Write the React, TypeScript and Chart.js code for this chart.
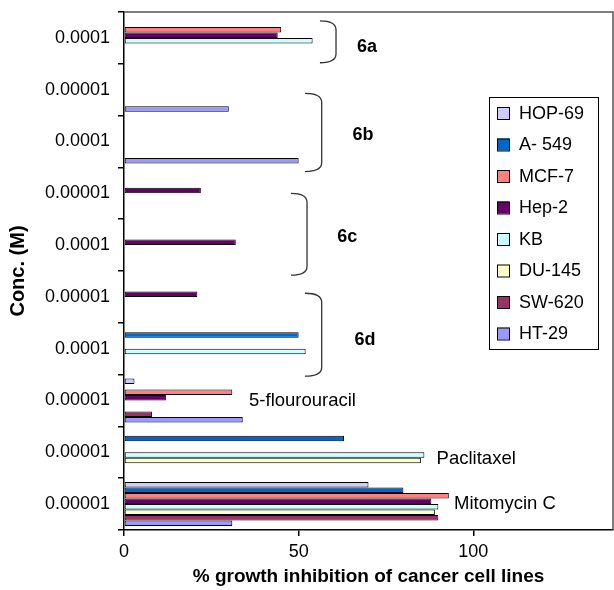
import React, { useEffect, useRef } from 'react';
import { Chart, registerables } from 'chart.js';

Chart.register(...registerables);

const FONT = "'Liberation Sans', Arial, Helvetica, sans-serif";

// Categories, top to bottom
const categories = ['0.0001', '0.00001', '0.0001', '0.00001', '0.0001', '0.00001', '0.0001', '0.00001', '0.00001', '0.00001'];

const seriesNames = ['HOP-69', 'A- 549', 'MCF-7', 'Hep-2', 'KB', 'DU-145', 'SW-620', 'HT-29'];
const seriesColors = ['#CCCCFF', '#0066CC', '#FF8080', '#660066', '#CCFFFF', '#FFFFCC', '#993366', '#9999FF'];

const hop69 = [null, null, null, null, null, null, null, 3, null, 70];
const a549 = [null, null, null, null, null, null, 50, null, 63, 80];
const mcf7 = [45, null, null, null, null, null, null, 31, null, 93];
const hep2 = [44, null, null, 22, 32, 21, null, 12, null, 88];
const kb = [54, null, null, null, null, null, 52, null, 86, 90];
const du145 = [null, null, null, null, null, null, null, null, 85, 89];
const sw620 = [null, null, null, null, null, null, null, 8, null, 90];
const ht29 = [null, 30, 50, null, null, null, null, 34, null, 31];

const seriesValues = [hop69, a549, mcf7, hep2, kb, du145, sw620, ht29];

const xTicks = [0, 50, 100];
const xMax = 140;

// Group braces (x in value units, y in category index units)
const braces = [
  { label: '6a', x0: 56.1, x1: 60.7, yFrom: -0.33, yTo: 0.48, lx: 69.6, ly: 0.18 },
  { label: '6b', x0: 51.8, x1: 56.6, yFrom: 1.07, yTo: 2.58, lx: 68.4, ly: 1.875 },
  { label: '6c', x0: 47.8, x1: 52.4, yFrom: 3.0, yTo: 4.58, lx: 63.9, ly: 3.84 },
  { label: '6d', x0: 51.8, x1: 56.6, yFrom: 4.93, yTo: 6.53, lx: 69.0, ly: 5.83 },
];

const drugLabels = [
  { text: '5-flourouracil', x: 35.8, y: 7.01 },
  { text: 'Paclitaxel', x: 89.5, y: 8.13 },
  { text: 'Mitomycin C', x: 94.5, y: 9.0 },
];

const overlayPlugin = {
  id: 'overlay',
  beforeDatasetsDraw(chart: any) {
    const { ctx, chartArea } = chart;
    ctx.save();
    ctx.strokeStyle = '#555';
    ctx.lineWidth = 1.5;
    ctx.beginPath();
    ctx.moveTo(chartArea.left, chartArea.top);
    ctx.lineTo(chartArea.right, chartArea.top);
    ctx.lineTo(chartArea.right, chartArea.bottom);
    ctx.stroke();
    ctx.restore();
  },
  afterDraw(chart: any) {
    const { ctx } = chart;
    const xs = chart.scales.x;
    const ys = chart.scales.y;
    ctx.save();
    // braces
    ctx.strokeStyle = '#333';
    ctx.lineWidth = 1.3;
    braces.forEach((b) => {
      const x0 = xs.getPixelForValue(b.x0);
      const x1 = xs.getPixelForValue(b.x1);
      const y0 = ys.getPixelForValue(b.yFrom);
      const y1 = ys.getPixelForValue(b.yTo);
      const r = Math.min(9, (y1 - y0) / 4);
      ctx.beginPath();
      ctx.moveTo(x0, y0);
      ctx.quadraticCurveTo(x1, y0, x1, y0 + r);
      ctx.lineTo(x1, y1 - r);
      ctx.quadraticCurveTo(x1, y1, x0, y1);
      ctx.stroke();
      ctx.fillStyle = '#000';
      ctx.font = `bold 18px ${FONT}`;
      ctx.textAlign = 'center';
      ctx.textBaseline = 'middle';
      ctx.fillText(b.label, xs.getPixelForValue(b.lx), ys.getPixelForValue(b.ly));
    });
    // drug labels
    ctx.font = `18.5px ${FONT}`;
    ctx.textAlign = 'left';
    ctx.textBaseline = 'middle';
    ctx.fillStyle = '#000';
    drugLabels.forEach((d) => {
      ctx.fillText(d.text, xs.getPixelForValue(d.x), ys.getPixelForValue(d.y));
    });
    // legend
    const lx = 489, ly = 97, lw = 109, lh = 252;
    ctx.fillStyle = '#fff';
    ctx.fillRect(lx, ly, lw, lh);
    ctx.strokeStyle = '#000';
    ctx.lineWidth = 1;
    ctx.strokeRect(lx + 0.5, ly + 0.5, lw, lh);
    ctx.font = `18px ${FONT}`;
    chart.data.datasets.forEach((ds: any, i: number) => {
      const cy = ly + 16 + i * 31.5;
      ctx.fillStyle = ds.backgroundColor;
      ctx.fillRect(lx + 8, cy - 6, 12, 12);
      ctx.strokeStyle = '#000';
      ctx.strokeRect(lx + 8.5, cy - 5.5, 12, 12);
      ctx.fillStyle = '#000';
      ctx.textAlign = 'left';
      ctx.textBaseline = 'middle';
      ctx.fillText(ds.label, lx + 30, cy + 1);
    });
    ctx.restore();
  },
};

export default function App() {
  const canvasRef = useRef<HTMLCanvasElement | null>(null);

  useEffect(() => {
    if (!canvasRef.current) return;
    const chart = new Chart(canvasRef.current, {
      type: 'bar',
      data: {
        labels: categories,
        datasets: seriesNames.map((name, i) => ({
          label: name,
          data: seriesValues[i],
          backgroundColor: seriesColors[i],
          borderColor: '#000',
          borderWidth: 1,
          borderSkipped: false,
          categoryPercentage: 0.85,
          barPercentage: 1.0,
        })),
      },
      options: {
        indexAxis: 'y',
        animation: false,
        responsive: true,
        maintainAspectRatio: false,
        devicePixelRatio: 1,
        events: [],
        layout: { padding: { top: 12, right: 1, left: 0, bottom: 0 } },
        plugins: {
          legend: { display: false },
          tooltip: { enabled: false },
          title: { display: false },
        },
        scales: {
          x: {
            type: 'linear',
            position: 'bottom',
            min: 0,
            max: xMax,
            afterBuildTicks: (s: any) => {
              s.ticks = xTicks.map((v) => ({ value: v }));
            },
            afterFit: (s: any) => {
              s.height = 60;
              s.paddingLeft = 0;
              s.paddingRight = 0;
            },
            grid: { drawOnChartArea: false, drawTicks: true, tickLength: 6, color: '#000', lineWidth: 1.5 },
            border: { display: true, color: '#000', width: 1.5 },
            ticks: { color: '#000', font: { family: FONT, size: 18 }, padding: 5, maxRotation: 0 },
            title: {
              display: true,
              text: '% growth inhibition of cancer cell lines',
              color: '#000',
              font: { family: FONT, size: 19, weight: 'bold' },
              padding: { top: 0, bottom: 2 },
            },
          },
          y: {
            type: 'category',
            offset: true,
            afterFit: (s: any) => {
              s.width = 124;
              s.paddingTop = 0;
              s.paddingBottom = 0;
            },
            grid: { offset: true, drawOnChartArea: false, drawTicks: true, tickLength: 6, color: '#000', lineWidth: 1.5 },
            border: { display: true, color: '#000', width: 1.5 },
            ticks: { color: '#000', font: { family: FONT, size: 18 }, padding: 8, autoSkip: false },
            title: {
              display: true,
              text: 'Conc. (M)',
              color: '#000',
              font: { family: FONT, size: 20, weight: 'bold' },
              padding: { top: 6, bottom: 0 },
            },
          },
        },
      } as any,
      plugins: [overlayPlugin],
    });
    return () => chart.destroy();
  }, []);

  return (
    <div style={{ position: 'fixed', left: 0, top: 0, width: 614, height: 590, background: '#fff' }}>
      <canvas ref={canvasRef} />
    </div>
  );
}
